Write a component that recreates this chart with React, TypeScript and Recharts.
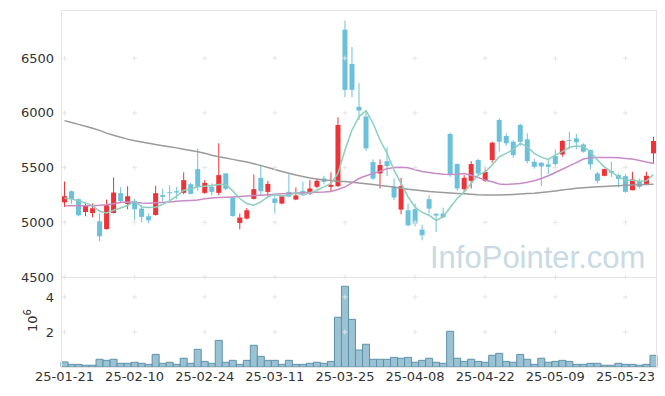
import {
  ComposedChart,
  BarChart,
  Bar,
  Line,
  XAxis,
  YAxis,
  ReferenceDot,
} from "recharts";

const dates = [
  "25-01-21", "25-01-22", "25-01-23", "25-01-24", "25-01-31",
  "25-02-03", "25-02-04", "25-02-05", "25-02-06", "25-02-07",
  "25-02-10", "25-02-11", "25-02-12", "25-02-13", "25-02-14",
  "25-02-17", "25-02-18", "25-02-19", "25-02-20", "25-02-21",
  "25-02-24", "25-02-25", "25-02-26", "25-02-27", "25-02-28",
  "25-03-04", "25-03-05", "25-03-06", "25-03-07", "25-03-10",
  "25-03-11", "25-03-12", "25-03-13", "25-03-14", "25-03-17",
  "25-03-18", "25-03-19", "25-03-20", "25-03-21", "25-03-24",
  "25-03-25", "25-03-26", "25-03-27", "25-03-28", "25-03-31",
  "25-04-01", "25-04-02", "25-04-03", "25-04-04", "25-04-07",
  "25-04-08", "25-04-09", "25-04-10", "25-04-11", "25-04-14",
  "25-04-15", "25-04-16", "25-04-17", "25-04-18", "25-04-21",
  "25-04-22", "25-04-23", "25-04-24", "25-04-25", "25-04-28",
  "25-04-29", "25-04-30", "25-05-02", "25-05-07", "25-05-08",
  "25-05-09", "25-05-12", "25-05-13", "25-05-14", "25-05-15",
  "25-05-16", "25-05-19", "25-05-20", "25-05-21", "25-05-22",
  "25-05-23", "25-05-26", "25-05-27", "25-05-28", "25-05-29",
];

const opens = [
  5183, 5284, 5211, 5094, 5085, 5009, 4939, 5085, 5266, 5168,
  5195, 5125, 5055, 5067, 5248, 5275, 5284, 5269, 5348, 5486,
  5269, 5324, 5269, 5446, 5226, 4994, 5034, 5214, 5406, 5278,
  5217, 5171, 5278, 5208, 5287, 5263, 5324, 5400, 5324, 5330,
  6761, 6446, 6055, 5966, 5550, 5446, 5559, 5324, 5116, 5110,
  5119, 4933, 5211, 5078, 5080, 5807, 5532, 5303, 5379, 5569,
  5379, 5569, 5935, 5789, 5736, 5889, 5758, 5553, 5544, 5529,
  5605, 5620, 5752, 5767, 5712, 5660, 5446, 5425, 5468, 5431,
  5422, 5293, 5376, 5348, 5630,
];
const highs = [
  5373, 5290, 5215, 5171, 5171, 5080, 5208, 5410, 5320, 5330,
  5215, 5160, 5082, 5333, 5305, 5339, 5324, 5456, 5360, 5676,
  5385, 5355, 5722, 5450, 5230, 5080, 5130, 5437, 5529, 5379,
  5248, 5245, 5440, 5318, 5370, 5385, 5400, 5425, 5456, 5960,
  6843, 6602, 6272, 6012, 5575, 5575, 5685, 5400, 5406, 5171,
  5170, 4975, 5248, 5082, 5135, 5819, 5538, 5431, 5559, 5580,
  5507, 5736, 5951, 5813, 5750, 5900, 5813, 5580, 5550, 5569,
  5666, 5752, 5828, 5807, 5721, 5666, 5461, 5490, 5553, 5446,
  5440, 5461, 5400, 5461, 5782,
];
const lows = [
  5140, 5170, 5055, 5055, 5046, 4826, 4933, 5080, 5175, 5119,
  5018, 5000, 4991, 5061, 5195, 5202, 5211, 5257, 5255, 5287,
  5260, 5245, 5248, 5295, 5050, 4936, 5025, 5208, 5245, 5232,
  5080, 5165, 5230, 5202, 5248, 5248, 5310, 5348, 5278, 5324,
  6143, 6143, 5935, 5651, 5385, 5309, 5422, 5202, 5073, 4963,
  4963, 4835, 5080, 4911, 5043, 5415, 5287, 5278, 5309, 5420,
  5370, 5544, 5645, 5697, 5590, 5700, 5538, 5490, 5330, 5440,
  5507, 5599, 5666, 5666, 5636, 5483, 5355, 5420, 5415, 5318,
  5270, 5293, 5309, 5339, 5538,
];
const closes = [
  5238, 5211, 5064, 5153, 5128, 4872, 5156, 5272, 5193, 5238,
  5119, 5049, 5018, 5266, 5232, 5269, 5272, 5385, 5260, 5324,
  5360, 5278, 5431, 5305, 5058, 5043, 5110, 5303, 5284, 5351,
  5177, 5238, 5235, 5245, 5263, 5309, 5379, 5370, 5342, 5889,
  6210, 6210, 6021, 5676, 5400, 5523, 5514, 5226, 5330, 4972,
  4988, 4881, 5125, 5062, 5045, 5440, 5309, 5406, 5532, 5446,
  5461, 5727, 5736, 5722, 5614, 5736, 5559, 5507, 5510, 5507,
  5532, 5743, 5743, 5731, 5645, 5529, 5379, 5486, 5452, 5397,
  5278, 5392, 5324, 5425, 5743,
];

// moving averages
const ma5 = [
  5220, 5214, 5195, 5177, 5153, 5101, 5085, 5110, 5131, 5153,
  5195, 5140, 5135, 5138, 5165, 5195, 5238, 5293, 5305, 5324,
  5330, 5336, 5346, 5346, 5287, 5217, 5171, 5156, 5186, 5232,
  5254, 5241, 5248, 5269, 5248, 5269, 5293, 5324, 5355, 5446,
  5660, 5844, 5966, 6021, 5905, 5752, 5630, 5477, 5355, 5232,
  5140, 5090, 5064, 5018, 5049, 5135, 5217, 5278, 5355, 5431,
  5461, 5523, 5599, 5630, 5666, 5721, 5691, 5630, 5595, 5575,
  5614, 5645, 5685, 5697, 5691, 5645, 5569, 5507, 5461, 5415,
  5385, 5385, 5376, 5379, 5437,
];
const ma20 = [
  5150, 5150, 5150, 5150, 5152, 5155, 5160, 5170, 5180, 5186,
  5184, 5176, 5175, 5178, 5182, 5186, 5192, 5196, 5200, 5203,
  5215, 5223, 5226, 5229, 5232, 5236, 5240, 5244, 5248, 5252,
  5256, 5260, 5263, 5267, 5270, 5273, 5275, 5277, 5282, 5300,
  5324, 5360, 5400, 5425, 5446, 5465, 5490, 5500, 5502, 5498,
  5480, 5465, 5455, 5445, 5440, 5437, 5440, 5446, 5430, 5410,
  5385, 5370, 5350, 5346, 5350, 5355, 5365, 5380, 5400, 5425,
  5455, 5485, 5515, 5545, 5578, 5590, 5593, 5593, 5592, 5590,
  5584, 5578, 5565, 5550, 5538,
];
const ma120 = [
  5929, 5912, 5895, 5878, 5860, 5840, 5815, 5795, 5778, 5760,
  5745, 5733, 5722, 5710, 5700, 5690, 5680, 5668, 5657, 5645,
  5630, 5612, 5598, 5588, 5575, 5562, 5550, 5535, 5518, 5500,
  5482, 5465, 5448, 5432, 5418, 5405, 5395, 5387, 5381, 5376,
  5372, 5366, 5360, 5352, 5345, 5337, 5330, 5322, 5312, 5302,
  5295, 5288, 5282, 5276, 5272, 5268, 5264, 5260, 5256, 5252,
  5250, 5250, 5250, 5252, 5255, 5258, 5262, 5266, 5272, 5278,
  5286, 5294, 5303, 5310, 5316, 5320, 5324, 5328, 5331, 5334,
  5338, 5341, 5343, 5345, 5348,
];

// volume in millions of shares
const volumes = [
  0.29, 0.15, 0.15, 0.1, 0.1, 0.44, 0.38, 0.44, 0.21, 0.21,
  0.27, 0.21, 0.15, 0.72, 0.21, 0.27, 0.15, 0.5, 0.21, 1.01,
  0.32, 0.21, 1.52, 0.27, 0.38, 0.15, 0.38, 1.24, 0.61, 0.38,
  0.38, 0.15, 0.38, 0.15, 0.15, 0.21, 0.27, 0.21, 0.32, 2.84,
  4.61, 2.72, 0.97, 1.3, 0.44, 0.44, 0.44, 0.55, 0.5, 0.55,
  0.27, 0.38, 0.5, 0.27, 0.21, 2.04, 0.5, 0.32, 0.44, 0.32,
  0.27, 0.67, 0.78, 0.32, 0.27, 0.72, 0.44, 0.15, 0.5, 0.27,
  0.32, 0.38, 0.32, 0.15, 0.15, 0.21, 0.21, 0.1, 0.1, 0.21,
  0.15, 0.15, 0.1, 0.15, 0.67,
];

const priceTicks = [4500, 5000, 5500, 6000, 6500];
const volTicks = [2000000, 4000000];

const data = dates.map((date, i) => ({
  date,
  open: opens[i],
  high: highs[i],
  low: lows[i],
  close: closes[i],
  ma5: ma5[i],
  ma20: ma20[i],
  ma120: ma120[i],
  vol: volumes[i] * 1000000,
}));

const tickDates = dates.filter((_, i) => i % 10 === 0);

const RED = "#ee3338";
const BLUE = "#6cc1da";
const FONT = "DejaVu Sans";
const W = 665;

const Candle = (props: any) => {
  const { x, y, width, height, payload } = props;
  const { open, close, high, low } = payload;
  const color = close >= open ? RED : BLUE;
  const top = height >= 0 ? y : y + height;
  const h = Math.abs(height);
  const k = high === low ? 0 : h / (high - low);
  const b1 = top + (high - Math.max(open, close)) * k;
  const b2 = top + (high - Math.min(open, close)) * k;
  const cx = x + width / 2;
  return (
    <g>
      <line x1={cx} x2={cx} y1={top} y2={top + h} stroke={color} strokeWidth={1} />
      <rect x={x} y={b1} width={width} height={Math.max(b2 - b1, 1)} fill={color} />
    </g>
  );
};

const Cross = (props: any) => {
  const { cx, cy } = props;
  return (
    <path
      d={`M${cx - 2.5},${cy}h5M${cx},${cy - 2.5}v5`}
      stroke="#e6e6e6"
      strokeWidth={1}
    />
  );
};

const tickStyle = { fontSize: 13, fill: "#333", fontFamily: FONT };

export default function App() {
  return (
    <div
      style={{
        position: "absolute",
        left: 0,
        top: 0,
        width: W,
        height: 396,
        background: "#fff",
        overflow: "hidden",
      }}
    >
      <div style={{ position: "absolute", left: 0, top: 0 }}>
        <ComposedChart
          width={W}
          height={290}
          data={data}
          margin={{ top: 10, right: 8, bottom: 13, left: 0 }}
        >
          <XAxis dataKey="date" hide />
          <YAxis
            width={61}
            domain={[4500, 6940]}
            ticks={priceTicks}
            interval={0}
            allowDataOverflow
            axisLine={false}
            tickLine={false}
            tickSize={0}
            tickMargin={7}
            tick={tickStyle}
          />
          {tickDates.flatMap((d) =>
            priceTicks.map((p) => (
              <ReferenceDot key={d + p} x={d} y={p} shape={<Cross />} />
            ))
          )}
          <Bar
            dataKey={(d: any) => [d.low, d.high]}
            barSize={5}
            shape={<Candle />}
            isAnimationActive={false}
          />
          <Line dataKey="ma120" stroke="#9a9a9a" strokeWidth={1.5} dot={false} isAnimationActive={false} />
          <Line dataKey="ma20" stroke="#c98bc6" strokeWidth={1.5} dot={false} isAnimationActive={false} />
          <Line dataKey="ma5" stroke="#8ccfbf" strokeWidth={1.5} dot={false} isAnimationActive={false} />
        </ComposedChart>
      </div>
      <div style={{ position: "absolute", left: 0, top: 272 }}>
        <BarChart
          width={W}
          height={124}
          data={data}
          barCategoryGap={0}
          margin={{ top: 5, right: 8, bottom: 0, left: 0 }}
        >
          <XAxis
            dataKey="date"
            interval={9}
            height={29}
            axisLine={false}
            tickLine={false}
            tickSize={0}
            tickMargin={5}
            tick={tickStyle}
          />
          <YAxis
            width={61}
            domain={[0, 5140000]}
            ticks={volTicks}
            interval={0}
            allowDataOverflow
            axisLine={false}
            tickLine={false}
            tickSize={0}
            tickMargin={7}
            tick={tickStyle}
            tickFormatter={(v: number) => String(v / 1000000)}
          />
          {tickDates.flatMap((d) =>
            volTicks.map((v) => (
              <ReferenceDot key={d + v} x={d} y={v} shape={<Cross />} />
            ))
          )}
          <Bar
            dataKey="vol"
            fill="#9bc2d3"
            stroke="#5e92aa"
            strokeWidth={1}
            isAnimationActive={false}
          />
        </BarChart>
      </div>
      <svg
        width={W}
        height={396}
        style={{ position: "absolute", left: 0, top: 0, pointerEvents: "none" }}
      >
        <rect x={61.5} y={10.5} width={595} height={267} fill="none" stroke="#e4e4e4" />
        <rect x={61.5} y={277.5} width={595} height={90} fill="none" stroke="#e4e4e4" />
        <text
          x={430}
          y={268}
          fontSize={31}
          fontFamily="Liberation Sans"
          fill="#c8dae4"
        >
          InfoPointer.com
        </text>
        <text
          transform="translate(37,332) rotate(-90)"
          fontSize={13}
          fontFamily={FONT}
          fill="#333"
        >
          10
          <tspan dy={-6} fontSize={10}>
            6
          </tspan>
        </text>
      </svg>
    </div>
  );
}
